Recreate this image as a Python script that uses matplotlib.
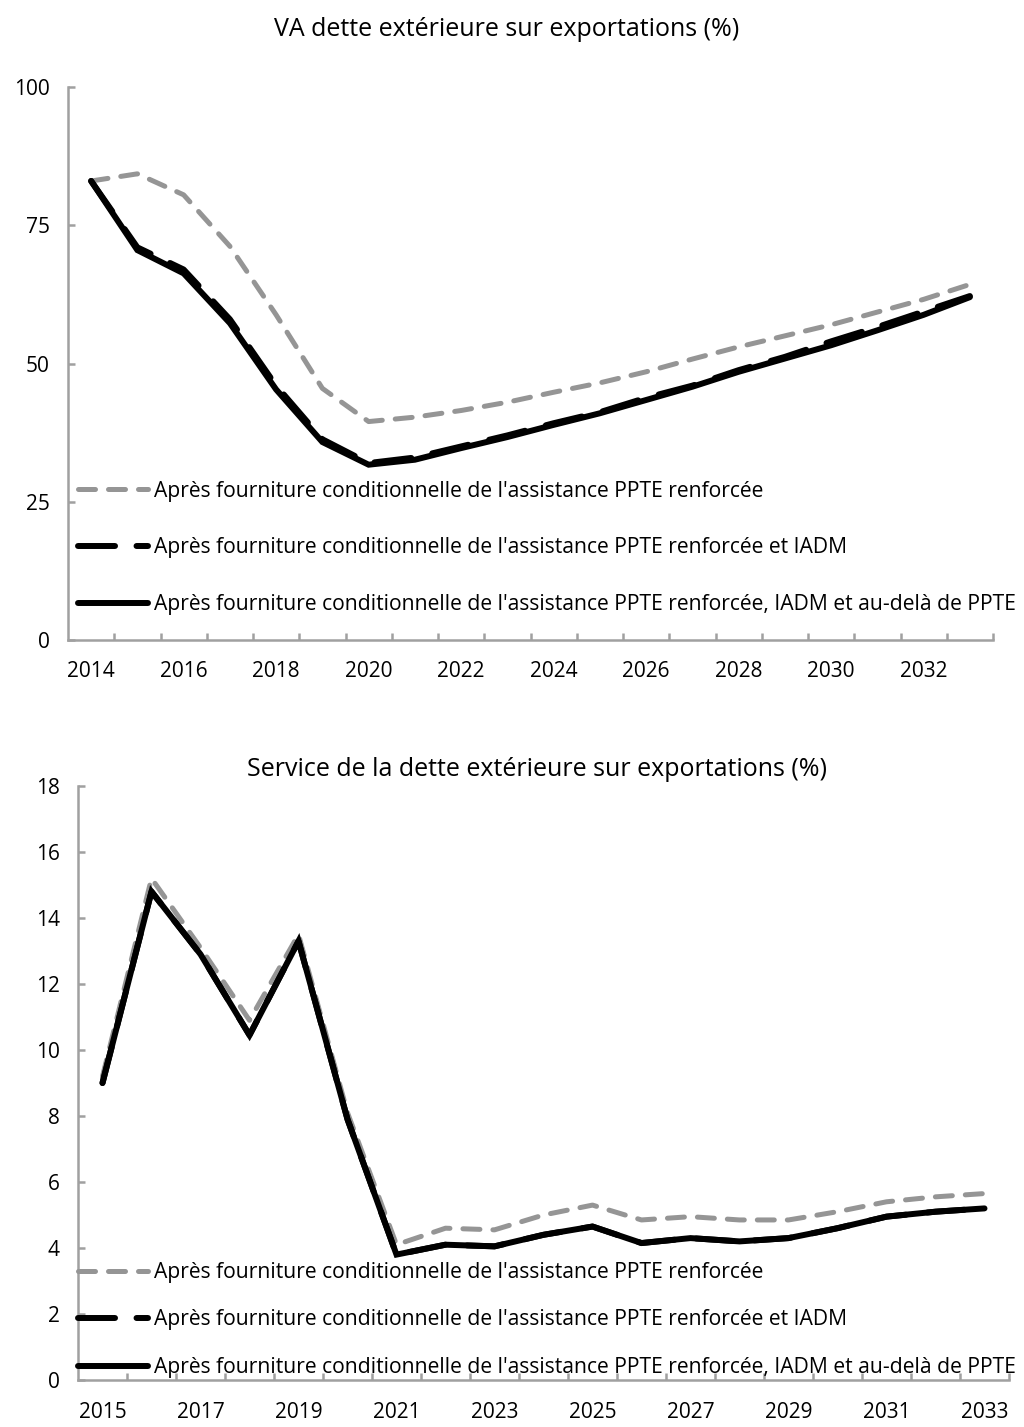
import matplotlib
matplotlib.use('Agg')
import matplotlib.pyplot as plt

plt.rcParams['font.family'] = ['Open Sans', 'DejaVu Sans']

# top chart: VA dette exterieure sur exportations (%)
va_years = list(range(2014, 2034))
va_hipc = [83, 84.3, 80.5, 71.2, 58.8, 45.5, 39.5, 40.3, 41.5, 43, 44.8, 46.5, 48.5, 50.8, 53, 55, 57, 59.3, 61.6, 64.3]
va_hipc_mdri = [83, 71, 67, 58, 46, 36.3, 32, 33, 35, 37, 39.2, 41.2, 43.8, 46, 48.8, 51.2, 54, 56.6, 59.4, 62.2]
va_beyond = [83, 70.5, 66.3, 57.3, 45.3, 35.8, 31.7, 32.6, 34.7, 36.7, 38.9, 41, 43.4, 45.8, 48.5, 50.9, 53.3, 56, 58.8, 62]

# bottom chart: service de la dette exterieure sur exportations (%)
sd_years = list(range(2015, 2034))
sd_hipc = [9.2, 15.2, 13.1, 10.9, 13.5, 8.1, 4.1, 4.6, 4.55, 5.0, 5.3, 4.85, 4.95, 4.85, 4.85, 5.1, 5.4, 5.55, 5.65]
sd_hipc_mdri = [9.0, 14.8, 12.9, 10.45, 13.3, 7.9, 3.8, 4.1, 4.05, 4.4, 4.65, 4.15, 4.3, 4.2, 4.3, 4.6, 4.95, 5.1, 5.2]
sd_beyond = [9.0, 14.8, 12.9, 10.45, 13.3, 7.9, 3.8, 4.1, 4.05, 4.4, 4.65, 4.15, 4.3, 4.2, 4.3, 4.6, 4.95, 5.1, 5.2]

labels = ["Après fourniture conditionnelle de l'assistance PPTE renforcée",
          "Après fourniture conditionnelle de l'assistance PPTE renforcée et IADM",
          "Après fourniture conditionnelle de l'assistance PPTE renforcée, IADM et au-delà de PPTE"]

W, H = 1024, 1427
fig = plt.figure(figsize=(W / 100, H / 100), dpi=100)

axcol = '#a0a0a0'
gray = '#959595'


def draw(ax, years, s1, s2, s3, ymax, ystep, leg_y, leg_space, xpad):
    x = list(range(len(years)))
    ax.plot(x, s1, color=gray, lw=3.6, dashes=(3.4, 2.6), dash_capstyle='round',
            solid_capstyle='round', label=labels[0], zorder=2)
    ax.plot(x, s2, color='black', lw=4.3, dashes=(6.2, 3.6), dash_capstyle='round',
            solid_capstyle='round', label=labels[1], zorder=3)
    ax.plot(x, s3, color='black', lw=4.3, solid_capstyle='round', solid_joinstyle='miter',
            label=labels[2], zorder=4)
    ax.set_xlim(-0.5, len(years) - 0.5)
    ax.set_ylim(0, ymax)
    ax.set_yticks(range(0, ymax + 1, ystep))
    ax.set_xticks(x[::2])
    ax.set_xticklabels([str(y) for y in years[::2]])
    ax.set_xticks([i + 0.5 for i in x], minor=True)
    for s in ['top', 'right']:
        ax.spines[s].set_visible(False)
    for s in ['left', 'bottom']:
        ax.spines[s].set_color(axcol)
        ax.spines[s].set_linewidth(1.8)
    ax.tick_params(axis='y', direction='in', length=5, width=1.8, color=axcol,
                   labelsize=15, pad=13)
    ax.tick_params(axis='x', which='major', length=0, labelsize=15, pad=xpad)
    ax.tick_params(axis='x', which='minor', direction='in', length=5, width=1.8, color=axcol)
    ax.legend(loc='center left', bbox_to_anchor=(78 / W, leg_y), bbox_transform=fig.transFigure,
              frameon=False, fontsize=15.2, handlelength=3.3, handletextpad=0.3,
              labelspacing=leg_space, borderpad=0, borderaxespad=0)


ax1 = fig.add_axes([68 / W, 1 - 640 / H, 925 / W, 553 / H])
draw(ax1, va_years, va_hipc, va_hipc_mdri, va_beyond, 100, 25, 1 - 548 / H, 1.7, 15)
fig.text(507 / W, 1 - 30 / H, 'VA dette extérieure sur exportations (%)',
         ha='center', va='center', fontsize=18)

ax2 = fig.add_axes([78 / W, 1 - 1380 / H, 931 / W, 594 / H])
draw(ax2, sd_years, sd_hipc, sd_hipc_mdri, sd_beyond, 18, 2, 1 - 1320 / H, 1.25, 16)
fig.text(537 / W, 1 - 770 / H, 'Service de la dette extérieure sur exportations (%)',
         ha='center', va='center', fontsize=18)

fig.savefig('out.png', dpi=100)
